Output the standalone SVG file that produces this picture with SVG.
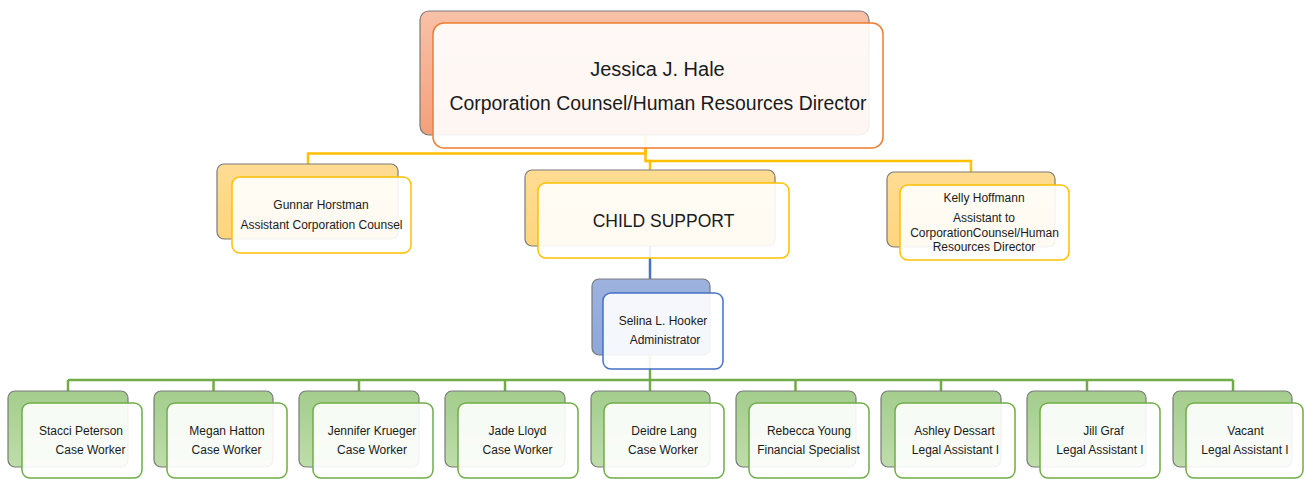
<svg xmlns="http://www.w3.org/2000/svg" width="1304" height="479" viewBox="0 0 1304 479">
  <defs>
    <linearGradient id="gOrange" x1="0" y1="0" x2="0" y2="1">
      <stop offset="0" stop-color="#F8C1A8"/>
      <stop offset="1" stop-color="#F4A07B"/>
    </linearGradient>
    <linearGradient id="gYellow" x1="0" y1="0" x2="0" y2="1">
      <stop offset="0" stop-color="#FFDC93"/>
      <stop offset="1" stop-color="#FFD57E"/>
    </linearGradient>
    <linearGradient id="gBlue" x1="0" y1="0" x2="0" y2="1">
      <stop offset="0" stop-color="#9DB3DE"/>
      <stop offset="1" stop-color="#8DA7D9"/>
    </linearGradient>
    <linearGradient id="gGreen" x1="0" y1="0" x2="0" y2="1">
      <stop offset="0" stop-color="#A3CD8D"/>
      <stop offset="1" stop-color="#BEDDAA"/>
    </linearGradient>
    <style>
      .back { stroke: #7A7A7A; stroke-width: 1.2; }
      .front { fill: #FFFFFF; fill-opacity: 0.9; stroke-width: 1.5; }
      .orange .back { fill: url(#gOrange); }
      .orange .front { stroke: #ED7D31; }
      .yellow .back { fill: url(#gYellow); }
      .yellow .front { stroke: #FFC000; }
      .blue .back { fill: url(#gBlue); }
      .blue .front { stroke: #4472C4; }
      .green .back { fill: url(#gGreen); }
      .green .front { stroke: #70AD47; }
      text { font-family: "Liberation Sans", Arial, sans-serif; fill: #1A1A1A; text-anchor: middle; }
      .t20 { font-size: 20px; }
      .t19 { font-size: 19.4px; }
      .t18 { font-size: 17.5px; }
      .t12 { font-size: 12px; }
      .conn { fill: none; stroke-width: 2.5; }
    </style>
  </defs>

  <rect width="1304" height="479" fill="#FFFFFF"/>

  <!-- connectors -->
  <g id="connectors">
    <g stroke="#FFC000" class="conn">
      <path class="conn" stroke="#FFC000" d="M645.5 135 V153.5 H308 V164"/>
      <path class="conn" stroke="#FFC000" d="M645.5 135 V161 H650 V170"/>
      <path class="conn" stroke="#FFC000" d="M645.5 161 H971 V172"/>
    </g>
    <path class="conn" stroke="#4472C4" d="M650 246 V279"/>
    <g>
      <path class="conn" stroke="#70AD47" d="M650 355 V380"/>
      <path class="conn" stroke="#70AD47" d="M68 380 H1233"/>
      <path class="conn" stroke="#70AD47" d="M68 380 V391 M213.5 380 V391 M359 380 V391 M505 380 V391 M650 380 V391 M795.5 380 V391 M941 380 V391 M1087 380 V391 M1233 380 V391"/>
    </g>
  </g>

  <!-- top -->
  <g id="node-hale" class="orange">
    <rect class="back" x="420" y="11" width="449" height="124" rx="9"/>
    <rect class="front" x="433" y="23" width="450" height="125" rx="11"/>
    <text class="t20" x="657.5" y="76">Jessica J. Hale</text>
    <text class="t19" x="658" y="110">Corporation Counsel/Human Resources Director</text>
  </g>

  <!-- second level -->
  <g id="node-horstman" class="yellow">
    <rect class="back" x="217" y="164" width="181" height="75" rx="7"/>
    <rect class="front" x="232" y="177" width="179" height="76" rx="8"/>
    <text class="t12" x="321" y="209">Gunnar Horstman</text>
    <text class="t12" x="321.5" y="229">Assistant Corporation Counsel</text>
  </g>

  <g id="node-child-support" class="yellow">
    <rect class="back" x="525" y="170" width="250" height="76" rx="7"/>
    <rect class="front" x="538" y="183" width="251" height="75" rx="8"/>
    <text class="t18" x="663.5" y="227">CHILD SUPPORT</text>
  </g>

  <g id="node-hoffmann" class="yellow">
    <rect class="back" x="887" y="172" width="168" height="75" rx="7"/>
    <rect class="front" x="900" y="185" width="169" height="75" rx="8"/>
    <text class="t12" x="984" y="202">Kelly Hoffmann</text>
    <text class="t12" x="984" y="222">Assistant to</text>
    <text class="t12" x="984.5" y="237">CorporationCounsel/Human</text>
    <text class="t12" x="984" y="251">Resources Director</text>
  </g>

  <!-- administrator -->
  <g id="node-hooker" class="blue">
    <rect class="back" x="592" y="279" width="118" height="76" rx="7"/>
    <rect class="front" x="603" y="293" width="120" height="76" rx="8"/>
    <text class="t12" x="663" y="325">Selina L. Hooker</text>
    <text class="t12" x="665" y="344">Administrator</text>
  </g>

  <!-- staff -->
  <g id="node-peterson" class="green">
    <rect class="back" x="8" y="391" width="120" height="76" rx="7"/>
    <rect class="front" x="22" y="403" width="120" height="75" rx="8"/>
    <text class="t12" x="81" y="435">Stacci Peterson</text>
    <text class="t12" x="90.5" y="454">Case Worker</text>
  </g>
  <g id="node-hatton" class="green">
    <rect class="back" x="154" y="391" width="119" height="76" rx="7"/>
    <rect class="front" x="167" y="403" width="120" height="75" rx="8"/>
    <text class="t12" x="227" y="435">Megan Hatton</text>
    <text class="t12" x="226.5" y="454">Case Worker</text>
  </g>
  <g id="node-krueger" class="green">
    <rect class="back" x="299" y="391" width="120" height="76" rx="7"/>
    <rect class="front" x="313" y="403" width="120" height="75" rx="8"/>
    <text class="t12" x="372" y="435">Jennifer Krueger</text>
    <text class="t12" x="372" y="454">Case Worker</text>
  </g>
  <g id="node-lloyd" class="green">
    <rect class="back" x="445" y="391" width="120" height="76" rx="7"/>
    <rect class="front" x="458" y="403" width="120" height="75" rx="8"/>
    <text class="t12" x="517.5" y="435">Jade Lloyd</text>
    <text class="t12" x="517.5" y="454">Case Worker</text>
  </g>
  <g id="node-lang" class="green">
    <rect class="back" x="591" y="391" width="119" height="76" rx="7"/>
    <rect class="front" x="604" y="403" width="120" height="75" rx="8"/>
    <text class="t12" x="664" y="435">Deidre Lang</text>
    <text class="t12" x="663" y="454">Case Worker</text>
  </g>
  <g id="node-young" class="green">
    <rect class="back" x="736" y="391" width="120" height="76" rx="7"/>
    <rect class="front" x="749" y="403" width="120" height="75" rx="8"/>
    <text class="t12" x="809" y="435">Rebecca Young</text>
    <text class="t12" x="808.5" y="454">Financial Specialist</text>
  </g>
  <g id="node-dessart" class="green">
    <rect class="back" x="881" y="391" width="120" height="76" rx="7"/>
    <rect class="front" x="895" y="403" width="120" height="75" rx="8"/>
    <text class="t12" x="954.5" y="435">Ashley Dessart</text>
    <text class="t12" x="955.5" y="454">Legal Assistant I</text>
  </g>
  <g id="node-graf" class="green">
    <rect class="back" x="1027" y="391" width="119" height="76" rx="7"/>
    <rect class="front" x="1040" y="403" width="120" height="75" rx="8"/>
    <text class="t12" x="1103.5" y="435">Jill Graf</text>
    <text class="t12" x="1100" y="454">Legal Assistant I</text>
  </g>
  <g id="node-vacant" class="green">
    <rect class="back" x="1173" y="391" width="119" height="76" rx="7"/>
    <rect class="front" x="1186" y="403" width="117" height="75" rx="8"/>
    <text class="t12" x="1245.5" y="435">Vacant</text>
    <text class="t12" x="1245" y="454">Legal Assistant I</text>
  </g>
</svg>
